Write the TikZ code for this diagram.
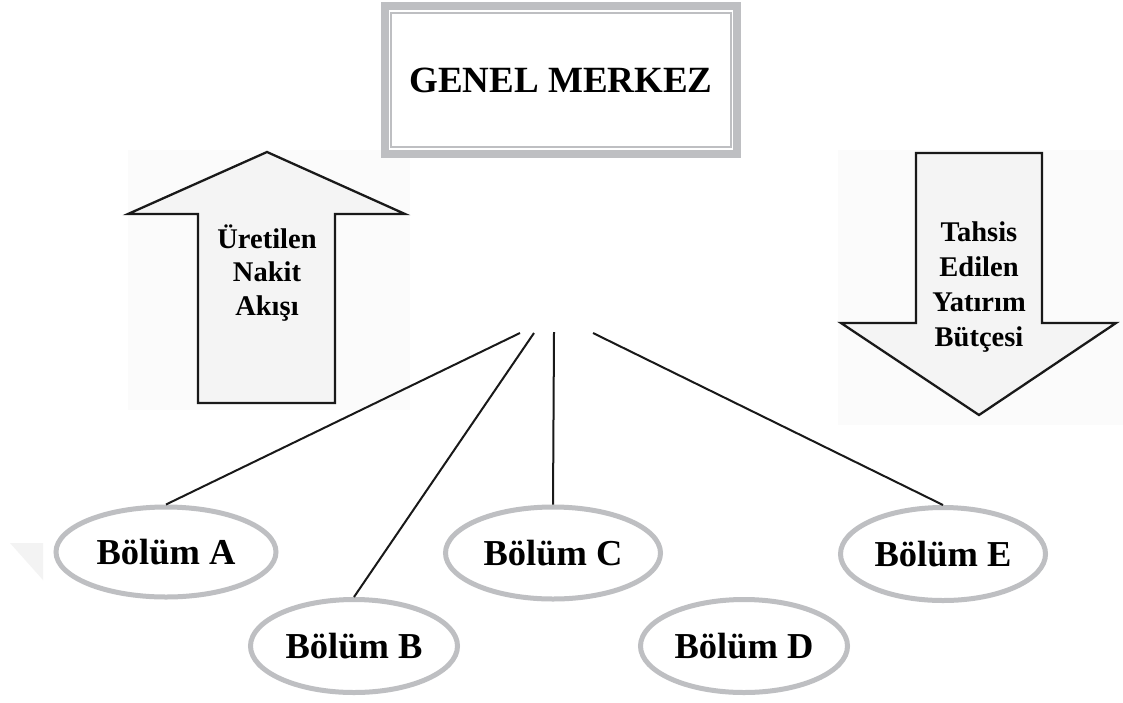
\documentclass[tikz,border=0pt]{standalone}
\usepackage{fontspec}
\setmainfont{Liberation Serif}
\usetikzlibrary{shapes.geometric}
\definecolor{frame}{RGB}{190,191,194}
\definecolor{arrowfill}{RGB}{244,244,244}
\definecolor{bgpanel}{RGB}{251,251,251}
\definecolor{ghost}{RGB}{243,243,243}
\begin{document}
\begin{tikzpicture}[x=1pt,y=-1pt,
  part/.style={ellipse, draw=frame, line width=5pt, inner sep=0pt,
    font=\fontsize{36.5}{42}\selectfont\bfseries},
  link/.style={line width=2pt, draw=black!90},
  bigarrow/.style={draw=black!90, line width=2.3pt, fill=arrowfill, line join=miter},
  arrowtext/.style={align=center, inner sep=0pt},
  headbox/.style={draw=frame, line width=8pt, minimum width=352pt, minimum height=148pt,
    inner sep=0pt, font=\fontsize{37}{44}\selectfont\bfseries}]
\useasboundingbox (0,0) rectangle (1123,702);
\fill[white] (0,0) rectangle (1123,702);
% faint background panels
\fill[bgpanel] (128,150) rectangle (410,410);
\fill[bgpanel] (838,150) rectangle (1123,425);
\fill[ghost] (10,543) -- (43,543) -- (43,580) -- cycle;

% head office
\node[headbox] (GM) at (561,80) {GENEL MERKEZ};
\draw[frame, line width=2.5pt] (391,13) rectangle (731,147);

% up arrow
\draw[bigarrow] (198,403) -- (198,214) -- (128,214) -- (267,152) -- (405,214)
  -- (335,214) -- (335,403) -- cycle;
\node[arrowtext, font=\fontsize{28.5}{33.5}\selectfont\bfseries] (up) at (267,273)
  {Üretilen\\Nakit\\Akışı};

% down arrow
\draw[bigarrow] (916,153) -- (1042,153) -- (1042,323) -- (1116,323) -- (979,415)
  -- (841,323) -- (916,323) -- cycle;
\node[arrowtext, font=\fontsize{28.5}{35}\selectfont\bfseries] (down) at (979,287)
  {Tahsis\\Edilen\\Yatırım\\Bütçesi};

% divisions
\node[part, minimum width=220pt, minimum height=90pt] (A) at (166,552) {Bölüm A};
\node[part, minimum width=207pt, minimum height=93pt] (B) at (354,646) {Bölüm B};
\node[part, minimum width=215pt, minimum height=92pt] (C) at (553,553) {Bölüm C};
\node[part, minimum width=207pt, minimum height=93pt] (D) at (744,646) {Bölüm D};
\node[part, minimum width=205pt, minimum height=93pt] (E) at (943,554) {Bölüm E};

% hub points
\coordinate (hA) at (520,333);
\coordinate (hB) at (534,333);
\coordinate (hC) at (554,332);
\coordinate (hE) at (593,333);

\draw[link] (hA) -- (A.north);
\draw[link] (hB) -- (B.north);
\draw[link] (hC) -- (C.north);
\draw[link] (hE) -- (E.north);
\end{tikzpicture}
\end{document}
